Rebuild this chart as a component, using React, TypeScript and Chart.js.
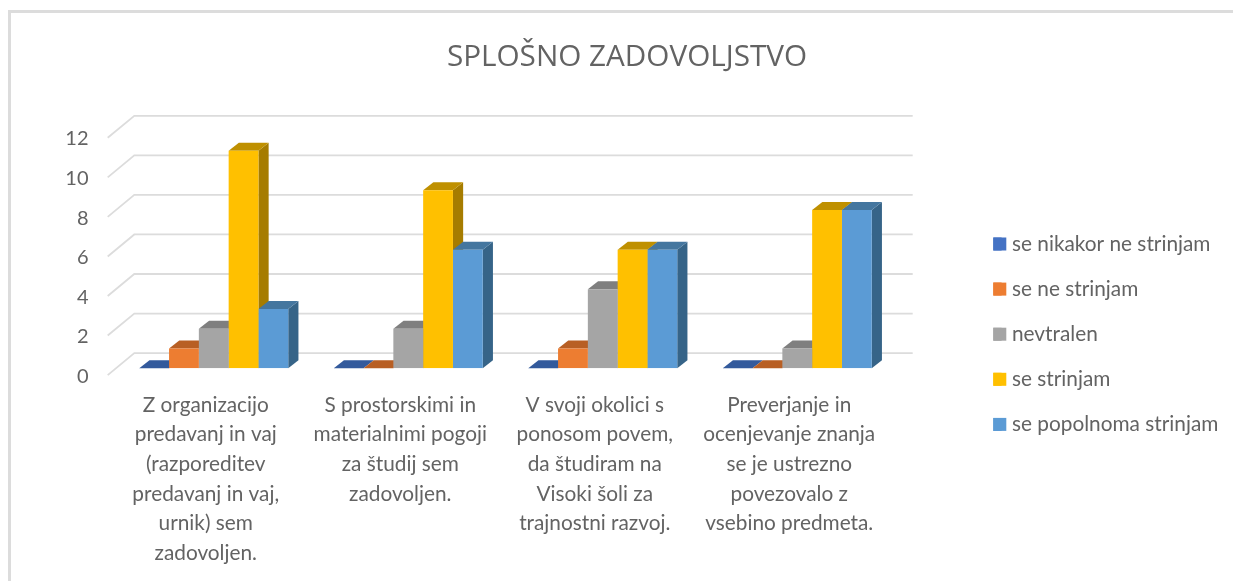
import React, { useEffect, useRef } from "react";
import { Chart, registerables } from "chart.js";

Chart.register(...registerables);

const titleText = "SPLOŠNO ZADOVOLJSTVO";
const categories = [
  ["Z organizacijo", "predavanj in vaj", "(razporeditev", "predavanj in vaj,", "urnik) sem", "zadovoljen."],
  ["S prostorskimi in", "materialnimi pogoji", "za študij sem", "zadovoljen."],
  ["V svoji okolici s", "ponosom povem,", "da študiram na", "Visoki šoli za", "trajnostni razvoj."],
  ["Preverjanje in", "ocenjevanje znanja", "se je ustrezno", "povezovalo z", "vsebino predmeta."],
];
const seriesNames = ["se nikakor ne strinjam", "se ne strinjam", "nevtralen", "se strinjam", "se popolnoma strinjam"];
const nikakor = [0, 0, 0, 0];
const neStrinjam = [1, 0, 1, 0];
const nevtralen = [2, 2, 4, 1];
const strinjam = [11, 9, 6, 8];
const popolnoma = [3, 6, 6, 8];
const seriesValues = [nikakor, neStrinjam, nevtralen, strinjam, popolnoma];
const frontColors = ["#4472c4", "#ed7d31", "#a5a5a5", "#ffc000", "#5b9bd5"];
const topColors = ["#335a9c", "#b85f24", "#7f7f7f", "#bf9000", "#44769f"];
const sideColors = ["#2b4a80", "#a8561f", "#6b6b6b", "#a67c00", "#366488"];

const FONT = "Lato";
const TITLE_FONT = "'Open Sans'";
const TEXT = "#636363";
const GRID = "#dcdcdc";
const LEGEND_X = 993.3;
const LEGEND_Y = 233.6;
const LEGEND_FONT = 20.8;
const LEGEND_PAD = 24.3;
const KEY_SIZE = 13;

const depthPlugin = {
  id: "depth",
  afterLayout(chart: any) {
    const lg = chart.legend;
    lg.left = LEGEND_X - LEGEND_PAD;
    lg.right = 1233;
    lg.top = LEGEND_Y - LEGEND_PAD;
    lg.bottom = 581;
    chart.titleBlock.left = 21;
    chart.titleBlock.right = 1233;
  },
  afterDraw(chart: any) {
    // the legend's text gap follows its font size, so the keys are widened here
    const { ctx } = chart;
    ctx.save();
    seriesNames.forEach((_, i) => {
      ctx.fillStyle = frontColors[i];
      const top = LEGEND_Y + i * (LEGEND_FONT + LEGEND_PAD) + (LEGEND_FONT - KEY_SIZE) / 2;
      ctx.fillRect(LEGEND_X, top, KEY_SIZE, KEY_SIZE);
    });
    ctx.restore();
  },
  beforeDatasetsDraw(chart: any) {
    const { ctx, scales } = chart;
    const { x: xs, y: ys } = scales;
    ctx.save();
    ctx.strokeStyle = GRID;
    ctx.lineWidth = 1.8;
    ys.ticks.forEach((t: any) => {
      const py = ys.getPixelForValue(t.value);
      ctx.beginPath();
      ctx.moveTo(xs.left - 8.8, py + 6.8);
      ctx.lineTo(xs.left + 17.8, py - 15.2);
      ctx.lineTo(xs.right + 18.2, py - 15.2);
      ctx.stroke();
    });
    const dx = 10.2;
    const dy = 8;
    seriesValues.forEach((_, di) => {
      const meta = chart.getDatasetMeta(di);
      meta.data.forEach((bar: any) => {
        const { x, y, base, width } = bar.getProps(["x", "y", "base", "width"], true);
        const l = x - width / 2;
        const r = x + width / 2;
        if (base - y > 0) {
          ctx.fillStyle = sideColors[di];
          ctx.beginPath();
          ctx.moveTo(r, y);
          ctx.lineTo(r + dx, y - dy);
          ctx.lineTo(r + dx, base - dy);
          ctx.lineTo(r, base);
          ctx.closePath();
          ctx.fill();
        }
        ctx.fillStyle = topColors[di];
        ctx.beginPath();
        ctx.moveTo(l, y);
        ctx.lineTo(l + dx, y - dy);
        ctx.lineTo(r + dx, y - dy);
        ctx.lineTo(r, y);
        ctx.closePath();
        ctx.fill();
      });
    });
    ctx.restore();
  },
};

export default function App() {
  const ref = useRef<HTMLCanvasElement>(null);
  useEffect(() => {
    const chart = new Chart(ref.current as HTMLCanvasElement, {
      type: "bar",
      data: {
        labels: categories as any,
        datasets: seriesNames.map((name, i) => ({
          label: name,
          data: seriesValues[i],
          backgroundColor: frontColors[i],
          borderWidth: 0,
          categoryPercentage: 0.766,
          barPercentage: 1,
        })),
      },
      plugins: [depthPlugin],
      options: {
        animation: false,
        responsive: false,
        layout: { padding: { left: 0, right: 188.5, top: 0, bottom: 0 } },
        plugins: {
          tooltip: { enabled: false },
          title: {
            display: true,
            text: titleText,
            color: TEXT,
            font: { family: TITLE_FONT, size: 29.7, weight: "normal", lineHeight: 1 },
            padding: { top: 42.5, bottom: 58.8 },
          },
          legend: {
            display: true,
            position: "right",
            align: "start",
            maxWidth: 150,
            labels: {
              color: TEXT,
              font: { family: FONT, size: LEGEND_FONT },
              boxWidth: 8.3,
              boxHeight: KEY_SIZE,
              padding: LEGEND_PAD,
            },
          },
        },
        scales: {
          x: {
            grid: { display: false },
            border: { display: false },
            afterFit: (s: any) => {
              s.height = 212.7;
            },
            ticks: {
              color: TEXT,
              font: { family: FONT, size: 20.8, lineHeight: 1.423 },
              padding: 14,
              labelOffset: -8,
              maxRotation: 0,
              minRotation: 0,
              autoSkip: false,
            },
          },
          y: {
            min: 0,
            max: 12,
            grid: { display: false },
            border: { display: false },
            afterFit: (s: any) => {
              s.width = 116.5;
            },
            ticks: {
              stepSize: 2,
              color: TEXT,
              font: { family: FONT, size: 20 },
              padding: 20,
              labelOffset: 8,
            },
          },
        },
      } as any,
    });
    return () => chart.destroy();
  }, []);
  return (
    <div style={{ position: "fixed", left: 0, top: 0, width: 1233, height: 581, background: "#fff", overflow: "hidden" }}>
      <canvas ref={ref} width={1233} height={581} style={{ position: "absolute", left: 0, top: 0 }} />
      <div style={{ position: "absolute", left: 8, top: 10, right: 0, bottom: 0, borderLeft: "3px solid #dcdcdc", borderTop: "3px solid #dcdcdc", boxSizing: "border-box", pointerEvents: "none" }} />
    </div>
  );
}
